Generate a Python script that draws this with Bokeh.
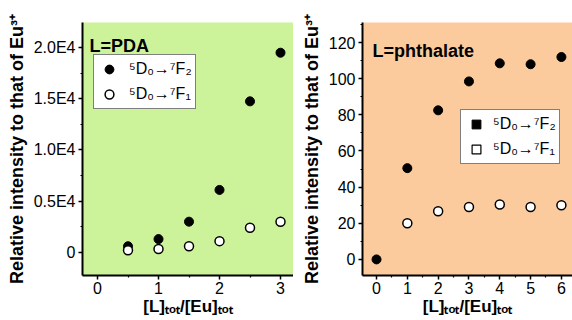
from bokeh.plotting import figure
from bokeh.layouts import row
from bokeh.models import (FixedTicker, Range1d, Legend, LegendItem, Label)
from bokeh.embed import file_html
from bokeh.resources import INLINE

# ---- data ----
x_pda = [0.5, 1.0, 1.5, 2.0, 2.5, 3.0]
f2_pda = [600, 1300, 3000, 6100, 14750, 19500]
f1_pda = [200, 330, 600, 1100, 2400, 3000]

x_ph_f2 = [0, 1, 2, 3, 4, 5, 6]
f2_ph = [0, 50.5, 82.5, 98.5, 108.5, 108, 112]
x_ph_f1 = [1, 2, 3, 4, 5, 6]
f1_ph = [20, 26.7, 29, 30.4, 29, 30]

pda_yticks = [0, 5000, 10000, 15000, 20000]
pda_ylabels = ["0", "0.5E4", "1.0E4", "1.5E4", "2.0E4"]
pda_xticks = [0, 1, 2, 3]
ph_xticks = [0, 1, 2, 3, 4, 5, 6]
ph_yticks = [0, 20, 40, 60, 80, 100, 120]

lab_f2 = "\u2075D\u2080\u2192\u2077F\u2082"
lab_f1 = "\u2075D\u2080\u2192\u2077F\u2081"
ylab = "Relative intensity to that of Eu\u00b3\u207a"
xlab = "[L]\u209c\u2092\u209c/[Eu]\u209c\u2092\u209c"

FONT = "Liberation Sans"
GREEN = "#ccf29a"
PEACH = "#fbcb9d"

H = 318
TOP = 22
FRAME_H = 255
ACT = 252  # frame height after the x axis takes its room


def style(p, bg):
    p.background_fill_color = bg
    p.border_fill_color = "white"
    p.outline_line_color = None
    p.grid.visible = False
    p.min_border_top = TOP
    p.min_border_right = 0
    p.min_border_bottom = H - TOP - FRAME_H
    for ax in (p.xaxis, p.yaxis):
        ax.axis_line_width = 2
        ax.axis_line_color = "black"
        ax.major_tick_line_width = 1.5
        ax.major_tick_line_color = "black"
        ax.minor_tick_line_width = 1.2
        ax.minor_tick_line_color = "black"
        ax.major_tick_in = 0
        ax.major_tick_out = 4
        ax.minor_tick_in = 0
        ax.minor_tick_out = 2
        ax.major_label_text_font = FONT
        ax.major_label_text_font_size = "16px"
        ax.major_label_text_color = "black"
        ax.axis_label_text_font = FONT
        ax.axis_label_text_font_style = "bold"
        ax.axis_label_text_color = "black"
    p.yaxis.axis_label = ylab
    p.yaxis.axis_label_text_font_size = "18px"
    p.yaxis.axis_label_standoff = 4
    p.yaxis.major_label_standoff = 3
    p.xaxis.axis_label = xlab
    p.xaxis.axis_label_text_font_size = "17px"
    p.xaxis.axis_label_standoff = 0
    p.xaxis.major_label_standoff = 2


def title(p, txt, x, y):
    p.add_layout(Label(x=x, y=y, x_units="screen", y_units="screen", text=txt,
                       text_font=FONT, text_font_size="18px", text_font_style="bold",
                       text_color="black", text_baseline="alphabetic"))


def legend(items, loc, pad, sp, standoff):
    return Legend(items=items, location=loc, padding=pad, spacing=sp, margin=0,
                  glyph_width=24, glyph_height=22, label_height=22,
                  label_standoff=standoff,
                  label_text_font=FONT, label_text_font_size="16px",
                  label_text_color="black", label_text_line_height=1.0,
                  border_line_color="black", border_line_width=1,
                  background_fill_color="white", background_fill_alpha=1)


# ---- left panel: L = PDA ----
p1 = figure(width=82 + 211, height=H, output_backend="svg", toolbar_location=None,
            x_range=Range1d(-0.246, 3.213), y_range=Range1d(-2255, 22450))
p1.min_border_left = 82
style(p1, GREEN)
p1.yaxis.ticker = FixedTicker(ticks=pda_yticks,
                              minor_ticks=[2500, 7500, 12500, 17500])
p1.yaxis.major_label_overrides = {t: l for t, l in zip(pda_yticks, pda_ylabels)}
p1.xaxis.ticker = FixedTicker(ticks=pda_xticks, minor_ticks=[0.5, 1.5, 2.5])

r1 = p1.scatter(x_pda, f2_pda, marker="circle", size=9, fill_color="black",
                line_color="black")
r2 = p1.scatter(x_pda, f1_pda, marker="circle", size=9, fill_color="white",
                line_color="black", line_width=1.5)
p1.add_layout(legend([LegendItem(label=lab_f2, renderers=[r1]),
                      LegendItem(label=lab_f1, renderers=[r2])],
                     (11, ACT - 86), 3, 3, 8), "center")
title(p1, "L=PDA", 7, ACT - 22)

# ---- right panel: L = phthalate ----
p2 = figure(width=69 + 210, height=H, output_backend="svg", toolbar_location=None,
            x_range=Range1d(-0.455, 6.36), y_range=Range1d(-8.9, 131.1))
p2.min_border_left = 69
style(p2, PEACH)
p2.yaxis.ticker = FixedTicker(ticks=ph_yticks,
                              minor_ticks=[10, 30, 50, 70, 90, 110, 130])
p2.xaxis.ticker = FixedTicker(ticks=ph_xticks,
                              minor_ticks=[0.5, 1.5, 2.5, 3.5, 4.5, 5.5])

# square legend proxies (size 0 -> hidden under the circles)
s1 = p2.scatter(x_ph_f2, f2_ph, marker="square", size=0, fill_color="black",
                line_color="black")
s2 = p2.scatter(x_ph_f1, f1_ph, marker="square", size=0, fill_color="white",
                line_color="black", line_width=1.2)
p2.scatter(x_ph_f1, f1_ph, marker="circle", size=9, fill_color="white",
           line_color="black", line_width=1.5)
p2.scatter(x_ph_f2, f2_ph, marker="circle", size=9, fill_color="black",
           line_color="black")
p2.add_layout(legend([LegendItem(label=lab_f2, renderers=[s1]),
                      LegendItem(label=lab_f1, renderers=[s2])],
                     (98, ACT - 141), 3, 3, 5), "center")
title(p2, "L=phthalate", 10, ACT - 27)

layout = row(p1, p2)
open("out.html", "w").write(file_html(layout, INLINE))
